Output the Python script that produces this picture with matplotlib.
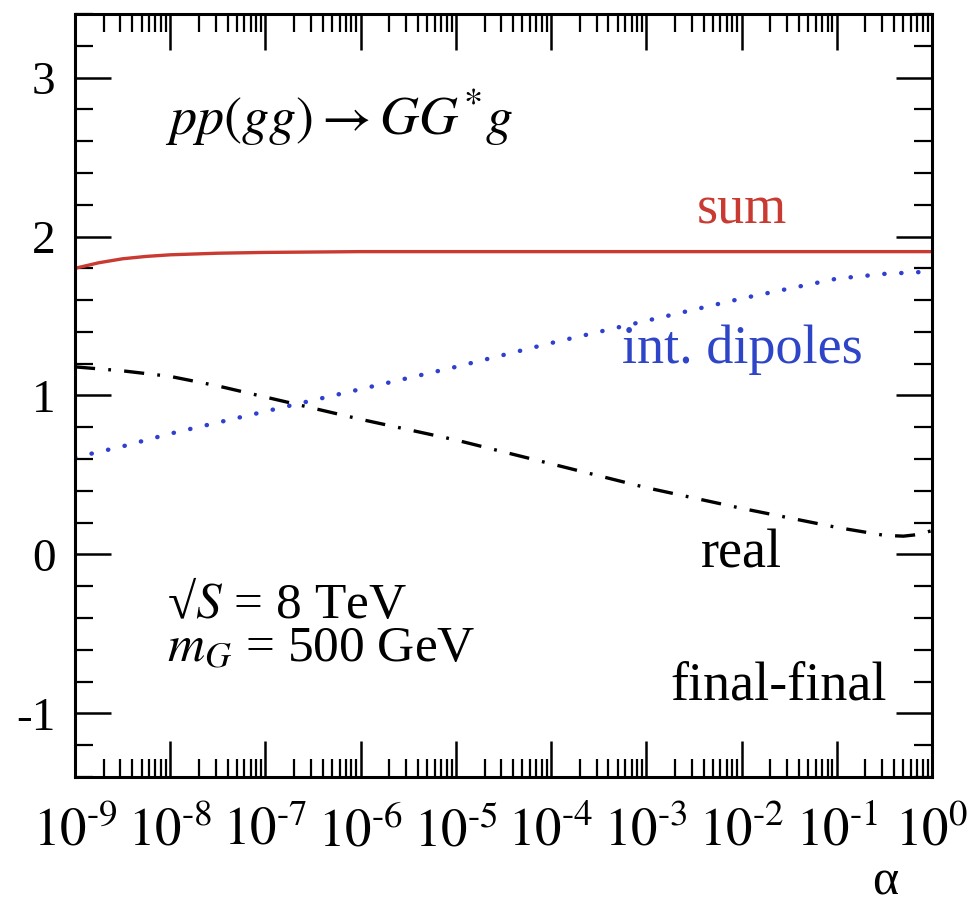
import numpy as np
import matplotlib
matplotlib.use('Agg')
import matplotlib.pyplot as plt
from matplotlib.ticker import LogLocator, MultipleLocator, NullFormatter

plt.rcParams['font.family'] = ['Liberation Serif', 'STIXGeneral', 'DejaVu Serif']
plt.rcParams['mathtext.fontset'] = 'stix'
plt.rcParams['lines.scale_dashes'] = False

# courbe "sum" (rouge)
sum_exp = [-9, -8.75, -8.5, -8.25, -8, -7.5, -7, -6, -5, -4, -3, -2, -1, 0]
sum_val = [1.80, 1.835, 1.86, 1.875, 1.885, 1.895, 1.90, 1.905, 1.905, 1.905, 1.905, 1.905, 1.905, 1.905]

# courbe "int. dipoles" (bleu pointillé)
dip_exp = [-9, -8.5, -8, -7, -6, -5, -4, -3, -2, -1, -0.5, 0]
dip_val = [0.61, 0.68, 0.76, 0.90, 1.04, 1.18, 1.33, 1.47, 1.61, 1.735, 1.765, 1.78]

# courbe "real" (tiret-point noir)
real_exp = [-9, -8.5, -8, -7.5, -7, -6, -5, -4, -3, -2, -1, -0.5, -0.3, -0.15, 0]
real_val = [1.18, 1.155, 1.12, 1.06, 0.99, 0.85, 0.72, 0.57, 0.42, 0.29, 0.17, 0.12, 0.115, 0.125, 0.15]

xtick_exp = [-9, -8, -7, -6, -5, -4, -3, -2, -1, 0]
xtick_labels = [r'$10^{\mathrm{‐%d}}$' % -e if e < 0 else r'$10^{0}$' for e in xtick_exp]
ytick_vals = [-1, 0, 1, 2, 3]
ytick_labels = ['-1', '0', '1', '2', '3']

fig = plt.figure(figsize=(9.73, 9.08), dpi=100)
ax = fig.add_axes([0.0771, 0.1443, 0.8808, 0.8403])

ax.plot(10.0 ** np.array(sum_exp), sum_val, color='#c83a32', lw=2.4, solid_capstyle='butt')
ax.plot(10.0 ** np.array(dip_exp), dip_val, color='#2f3fd0', lw=3.2,
        linestyle=(0, (0.2, 12.0)), dash_capstyle='round')
ax.plot(10.0 ** np.array(real_exp), real_val, color='black', lw=2.4,
        linestyle=(0, (14.5, 9.5, 2.0, 9.5)))

ax.set_xscale('log')
ax.set_xlim(1e-9, 1)
ax.set_ylim(-1.4, 3.4)

ax.set_xticks([10.0 ** e for e in xtick_exp])
ax.set_xticklabels(xtick_labels)
ax.xaxis.set_minor_locator(LogLocator(base=10, subs=np.arange(2, 10), numticks=30))
ax.xaxis.set_minor_formatter(NullFormatter())
ax.set_yticks(ytick_vals)
ax.set_yticklabels(ytick_labels)
ax.yaxis.set_minor_locator(MultipleLocator(0.2))

ax.tick_params(which='both', direction='in', top=True, right=True)
ax.tick_params(which='major', length=26, width=1.8, labelsize=34)
ax.tick_params(which='minor', length=13, width=1.6)
ax.tick_params(axis='x', which='major', pad=22, labelsize=38)
ax.tick_params(axis='y', which='major', pad=14)
for s in ax.spines.values():
    s.set_linewidth(2.2)

ax.set_xlabel('α', fontsize=36, va='bottom')
ax.xaxis.set_label_coords(0.945, -0.169)

# textes
fs = 39
ax.text(0.105, 0.841, r'$pp(gg)\rightarrow GG^{*}g$', transform=ax.transAxes,
        fontsize=fs, va='baseline', ha='left')
ax.text(0.778, 0.726, 'sum', color='#c83a32', transform=ax.transAxes,
        fontsize=fs, va='baseline', ha='center')
ax.text(0.779, 0.543, 'int. dipoles', color='#2f45c8', transform=ax.transAxes,
        fontsize=fs, va='baseline', ha='center')
ax.text(0.778, 0.275, 'real', transform=ax.transAxes,
        fontsize=fs, va='baseline', ha='center')
ax.text(0.947, 0.101, 'final-final', transform=ax.transAxes,
        fontsize=fs, va='baseline', ha='right')
ax.text(0.107, 0.208, r'√$S$ = 8 TeV', transform=ax.transAxes,
        fontsize=37, va='baseline', ha='left')
ax.text(0.107, 0.151, r'$m_G$ = 500 GeV', transform=ax.transAxes,
        fontsize=37, va='baseline', ha='left')

fig.savefig('out.png', dpi=100)
